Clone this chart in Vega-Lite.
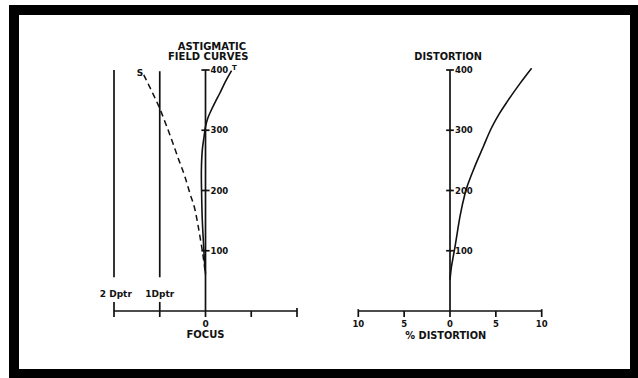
{
  "$schema": "https://vega.github.io/schema/vega-lite/v6.json",
  "width": 621,
  "height": 364,
  "autosize": {"type": "none"},
  "padding": {"left": 14, "top": 10, "right": 3, "bottom": 4},
  "background": "white",
  "config": {
    "view": {"stroke": "black", "strokeWidth": 10},
    "text": {"font": "DejaVu Sans", "fontWeight": "bold", "color": "#111"}
  },
  "datasets": {
    "leftRules": [
      {"x": -2, "x2": 2, "y": 0, "y2": 0},
      {"x": 0, "x2": 0, "y": 0, "y2": 400},
      {"x": -2, "x2": -2, "y": 56, "y2": 400},
      {"x": -1, "x2": -1, "y": 56, "y2": 398},
      {"x": -2, "x2": -2, "y": 15, "y2": -10},
      {"x": -1, "x2": -1, "y": 15, "y2": -10},
      {"x": 0, "x2": 0, "y": 0, "y2": -10},
      {"x": 1, "x2": 1, "y": 0, "y2": -10},
      {"x": 2, "x2": 2, "y": 5, "y2": -10},
      {"x": -0.09, "x2": 0.09, "y": 100, "y2": 100},
      {"x": -0.09, "x2": 0.09, "y": 200, "y2": 200},
      {"x": -0.09, "x2": 0.09, "y": 300, "y2": 300},
      {"x": -0.09, "x2": 0.09, "y": 400, "y2": 400}
    ],
    "rightRules": [
      {"x": -10, "x2": 10, "y": 0, "y2": 0},
      {"x": 0, "x2": 0, "y": 0, "y2": 400},
      {"x": -10, "x2": -10, "y": 3, "y2": -10},
      {"x": -5, "x2": -5, "y": 0, "y2": -10},
      {"x": 0, "x2": 0, "y": 0, "y2": -10},
      {"x": 5, "x2": 5, "y": 0, "y2": -10},
      {"x": 10, "x2": 10, "y": 3, "y2": -10},
      {"x": -0.42, "x2": 0.42, "y": 100, "y2": 100},
      {"x": -0.42, "x2": 0.42, "y": 200, "y2": 200},
      {"x": -0.42, "x2": 0.42, "y": 300, "y2": 300},
      {"x": -0.42, "x2": 0.42, "y": 400, "y2": 400}
    ],
    "tangential": [
      {"x": 0, "y": 62},
      {"x": -0.02, "y": 80},
      {"x": -0.04, "y": 107},
      {"x": -0.07, "y": 151},
      {"x": -0.085, "y": 195},
      {"x": -0.09, "y": 234},
      {"x": -0.07, "y": 267},
      {"x": -0.03, "y": 290},
      {"x": 0, "y": 306},
      {"x": 0.05, "y": 320},
      {"x": 0.13, "y": 334},
      {"x": 0.22, "y": 348},
      {"x": 0.31, "y": 361},
      {"x": 0.43, "y": 380},
      {"x": 0.57, "y": 399}
    ],
    "sagittal": [
      {"x": -1.35, "y": 392},
      {"x": -1.17, "y": 364},
      {"x": -1.0, "y": 336},
      {"x": -0.85, "y": 307},
      {"x": -0.71, "y": 278},
      {"x": -0.58, "y": 250},
      {"x": -0.45, "y": 223},
      {"x": -0.34, "y": 195},
      {"x": -0.23, "y": 168},
      {"x": -0.17, "y": 145},
      {"x": -0.12, "y": 123},
      {"x": -0.05, "y": 90},
      {"x": 0, "y": 60}
    ],
    "distortion": [
      {"x": 0, "y": 52},
      {"x": 0.11, "y": 68},
      {"x": 0.29, "y": 85},
      {"x": 0.55, "y": 107},
      {"x": 1.09, "y": 157},
      {"x": 1.64, "y": 195},
      {"x": 2.55, "y": 234},
      {"x": 3.64, "y": 273},
      {"x": 4.4, "y": 300},
      {"x": 5.4, "y": 328},
      {"x": 6.35, "y": 350},
      {"x": 7.6, "y": 377},
      {"x": 8.9, "y": 403}
    ],
    "tickLabels": [
      {"x": 0, "y": 100, "label": "100"},
      {"x": 0, "y": 200, "label": "200"},
      {"x": 0, "y": 300, "label": "300"},
      {"x": 0, "y": 400, "label": "400"}
    ],
    "leftTitles": [
      {"x": 0.14, "y": 438, "label": "ASTIGMATIC"},
      {"x": 0.06, "y": 421.6, "label": "FIELD CURVES"},
      {"x": 0, "y": -40, "label": "FOCUS"}
    ],
    "leftSmall": [
      {"x": -1.96, "y": 28, "label": "2 Dptr"},
      {"x": -1.0, "y": 28, "label": "1Dptr"},
      {"x": 0, "y": -21.6, "label": "0"},
      {"x": -1.43, "y": 395, "label": "S"}
    ],
    "leftT": [
      {"x": 0.63, "y": 404, "label": "T"}
    ],
    "rightTitles": [
      {"x": -0.2, "y": 422, "label": "DISTORTION"},
      {"x": -0.46, "y": -41, "label": "% DISTORTION"}
    ],
    "rightAxisLabels": [
      {"x": -10, "y": -21.6, "label": "10"},
      {"x": -5, "y": -21.6, "label": "5"},
      {"x": 0, "y": -21.6, "label": "0"},
      {"x": 5, "y": -21.6, "label": "5"},
      {"x": 10, "y": -21.6, "label": "10"}
    ]
  },
  "resolve": {"scale": {"x": "independent"}},
  "layer": [
    {
      "encoding": {
        "x": {"field": "x", "type": "quantitative", "scale": {"domain": [-2, 2], "range": [100, 283], "nice": false, "zero": false}, "axis": null},
        "y": {"field": "y", "type": "quantitative", "scale": {"domain": [0, 400], "range": [301, 60], "nice": false, "zero": false}, "axis": null}
      },
      "layer": [
        {
          "data": {"name": "leftRules"},
          "mark": {"type": "rule", "color": "#111", "strokeWidth": 1.7},
          "encoding": {"x2": {"field": "x2"}, "y2": {"field": "y2"}}
        },
        {
          "data": {"name": "tangential"},
          "mark": {"type": "line", "color": "#111", "strokeWidth": 1.6, "interpolate": "catmull-rom"},
          "encoding": {"order": {"field": "y", "type": "quantitative"}}
        },
        {
          "data": {"name": "sagittal"},
          "mark": {"type": "line", "color": "#111", "strokeWidth": 1.5, "strokeDash": [6, 4], "interpolate": "monotone"},
          "encoding": {"order": {"field": "x", "type": "quantitative"}}
        },
        {
          "data": {"name": "tickLabels"},
          "mark": {"type": "text", "align": "left", "baseline": "middle", "dx": 5, "fontSize": 8.5, "letterSpacing": 1.5},
          "encoding": {"text": {"field": "label"}}
        },
        {
          "data": {"name": "leftTitles"},
          "mark": {"type": "text", "align": "center", "baseline": "middle", "fontSize": 10, "letterSpacing": 1.2},
          "encoding": {"text": {"field": "label"}}
        },
        {
          "data": {"name": "leftSmall"},
          "mark": {"type": "text", "align": "center", "baseline": "middle", "fontSize": 9, "letterSpacing": 0.3},
          "encoding": {"text": {"field": "label"}}
        },
        {
          "data": {"name": "leftT"},
          "mark": {"type": "text", "align": "center", "baseline": "middle", "fontSize": 7},
          "encoding": {"text": {"field": "label"}}
        }
      ]
    },
    {
      "encoding": {
        "x": {"field": "x", "type": "quantitative", "scale": {"domain": [-10, 10], "range": [344.3, 527.7], "nice": false, "zero": false}, "axis": null},
        "y": {"field": "y", "type": "quantitative", "scale": {"domain": [0, 400], "range": [301, 60], "nice": false, "zero": false}, "axis": null}
      },
      "layer": [
        {
          "data": {"name": "rightRules"},
          "mark": {"type": "rule", "color": "#111", "strokeWidth": 1.7},
          "encoding": {"x2": {"field": "x2"}, "y2": {"field": "y2"}}
        },
        {
          "data": {"name": "distortion"},
          "mark": {"type": "line", "color": "#111", "strokeWidth": 1.6, "interpolate": "monotone"},
          "encoding": {"order": {"field": "x", "type": "quantitative"}}
        },
        {
          "data": {"name": "tickLabels"},
          "mark": {"type": "text", "align": "left", "baseline": "middle", "dx": 5, "fontSize": 8.5, "letterSpacing": 1.5},
          "encoding": {"text": {"field": "label"}}
        },
        {
          "data": {"name": "rightTitles"},
          "mark": {"type": "text", "align": "center", "baseline": "middle", "fontSize": 9.8, "letterSpacing": 0.9},
          "encoding": {"text": {"field": "label"}}
        },
        {
          "data": {"name": "rightAxisLabels"},
          "mark": {"type": "text", "align": "center", "baseline": "middle", "fontSize": 8.5, "letterSpacing": 0.5},
          "encoding": {"text": {"field": "label"}}
        }
      ]
    }
  ]
}
